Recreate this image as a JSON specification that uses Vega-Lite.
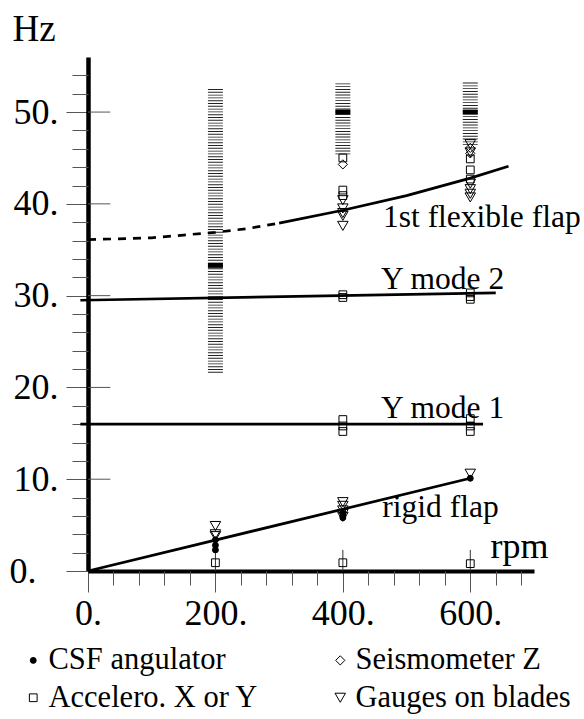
{
  "$schema": "https://vega.github.io/schema/vega-lite/v6.json",
  "width": 446,
  "height": 514,
  "autosize": {"type": "none"},
  "padding": {"left": 88, "top": 57, "right": 50, "bottom": 148},
  "config": {"view": {"stroke": null}, "font": "Liberation Serif"},
  "resolve": {"axis": {"x": "independent", "y": "independent"}},
  "datasets": {
    "bands": [
      {"rpm": 200, "hz": 21.6, "hi": 52.7},
      {"rpm": 400, "hz": 45.4, "hi": 53.3},
      {"rpm": 600, "hz": 46.4, "hi": 53.3}
    ],
    "peaks": [
      {"rpm": 200, "hz": 33.3},
      {"rpm": 400, "hz": 50.0},
      {"rpm": 600, "hz": 50.0}
    ],
    "majorX": [{"rpm": 200}, {"rpm": 400}, {"rpm": 600}],
    "majorY": [{"hz": 10}, {"hz": 20}, {"hz": 30}, {"hz": 40}, {"hz": 50}],
    "curves": [
      {"curve": "rigid flap", "style": "solid", "rpm": 0, "hz": 0},
      {"curve": "rigid flap", "style": "solid", "rpm": 600, "hz": 10.1},
      {"curve": "Y mode 1", "style": "solid", "rpm": -12, "hz": 16.0},
      {"curve": "Y mode 1", "style": "solid", "rpm": 620, "hz": 16.0},
      {"curve": "Y mode 2", "style": "solid", "rpm": -12, "hz": 29.5},
      {"curve": "Y mode 2", "style": "solid", "rpm": 640, "hz": 30.3},
      {"curve": "flex", "style": "solid", "rpm": 300, "hz": 37.9},
      {"curve": "flex", "style": "solid", "rpm": 400, "hz": 39.3},
      {"curve": "flex", "style": "solid", "rpm": 500, "hz": 40.9},
      {"curve": "flex", "style": "solid", "rpm": 600, "hz": 42.8},
      {"curve": "flex", "style": "solid", "rpm": 660, "hz": 44.1},
      {"curve": "flexd", "style": "dashed", "rpm": 0, "hz": 36.1},
      {"curve": "flexd", "style": "dashed", "rpm": 100, "hz": 36.3},
      {"curve": "flexd", "style": "dashed", "rpm": 150, "hz": 36.6},
      {"curve": "flexd", "style": "dashed", "rpm": 200, "hz": 36.9},
      {"curve": "flexd", "style": "dashed", "rpm": 250, "hz": 37.3},
      {"curve": "flexd", "style": "dashed", "rpm": 300, "hz": 37.9}
    ],
    "points": [
      {"rpm": 200, "hz": 4.9, "sensor": "Gauges on blades"},
      {"rpm": 200, "hz": 4.0, "sensor": "Gauges on blades"},
      {"rpm": 200, "hz": 3.8, "sensor": "Gauges on blades"},
      {"rpm": 200, "hz": 3.4, "sensor": "CSF angulator"},
      {"rpm": 200, "hz": 2.8, "sensor": "CSF angulator"},
      {"rpm": 200, "hz": 2.3, "sensor": "CSF angulator"},
      {"rpm": 200, "hz": 0.9, "sensor": "Accelero. X or Y"},
      {"rpm": 400, "hz": 45.0, "sensor": "Accelero. X or Y"},
      {"rpm": 400, "hz": 44.3, "sensor": "Seismometer Z"},
      {"rpm": 400, "hz": 41.5, "sensor": "Accelero. X or Y"},
      {"rpm": 400, "hz": 40.9, "sensor": "Accelero. X or Y"},
      {"rpm": 400, "hz": 40.4, "sensor": "Gauges on blades"},
      {"rpm": 400, "hz": 39.5, "sensor": "Gauges on blades"},
      {"rpm": 400, "hz": 39.0, "sensor": "Gauges on blades"},
      {"rpm": 400, "hz": 38.7, "sensor": "Gauges on blades"},
      {"rpm": 400, "hz": 37.6, "sensor": "Gauges on blades"},
      {"rpm": 400, "hz": 30.1, "sensor": "Accelero. X or Y"},
      {"rpm": 400, "hz": 29.8, "sensor": "Accelero. X or Y"},
      {"rpm": 400, "hz": 16.5, "sensor": "Accelero. X or Y"},
      {"rpm": 400, "hz": 15.8, "sensor": "Accelero. X or Y"},
      {"rpm": 400, "hz": 15.2, "sensor": "Accelero. X or Y"},
      {"rpm": 400, "hz": 7.5, "sensor": "Gauges on blades"},
      {"rpm": 400, "hz": 7.1, "sensor": "Gauges on blades"},
      {"rpm": 400, "hz": 6.6, "sensor": "Gauges on blades"},
      {"rpm": 400, "hz": 6.2, "sensor": "Gauges on blades"},
      {"rpm": 400, "hz": 5.9, "sensor": "Gauges on blades"},
      {"rpm": 400, "hz": 6.3, "sensor": "CSF angulator"},
      {"rpm": 400, "hz": 6.0, "sensor": "CSF angulator"},
      {"rpm": 400, "hz": 5.8, "sensor": "CSF angulator"},
      {"rpm": 400, "hz": 0.9, "sensor": "Accelero. X or Y"},
      {"rpm": 600, "hz": 46.5, "sensor": "Gauges on blades"},
      {"rpm": 600, "hz": 46.1, "sensor": "Seismometer Z"},
      {"rpm": 600, "hz": 45.5, "sensor": "Seismometer Z"},
      {"rpm": 600, "hz": 45.6, "sensor": "Gauges on blades"},
      {"rpm": 600, "hz": 44.9, "sensor": "Accelero. X or Y"},
      {"rpm": 600, "hz": 43.7, "sensor": "Accelero. X or Y"},
      {"rpm": 600, "hz": 42.7, "sensor": "Accelero. X or Y"},
      {"rpm": 600, "hz": 42.2, "sensor": "Gauges on blades"},
      {"rpm": 600, "hz": 41.6, "sensor": "Gauges on blades"},
      {"rpm": 600, "hz": 41.1, "sensor": "Gauges on blades"},
      {"rpm": 600, "hz": 40.7, "sensor": "Gauges on blades"},
      {"rpm": 600, "hz": 30.3, "sensor": "Accelero. X or Y"},
      {"rpm": 600, "hz": 29.9, "sensor": "Accelero. X or Y"},
      {"rpm": 600, "hz": 29.6, "sensor": "Accelero. X or Y"},
      {"rpm": 600, "hz": 16.6, "sensor": "Accelero. X or Y"},
      {"rpm": 600, "hz": 15.8, "sensor": "Accelero. X or Y"},
      {"rpm": 600, "hz": 15.2, "sensor": "Accelero. X or Y"},
      {"rpm": 600, "hz": 10.6, "sensor": "Gauges on blades"},
      {"rpm": 600, "hz": 10.1, "sensor": "CSF angulator"},
      {"rpm": 600, "hz": 0.8, "sensor": "Accelero. X or Y"}
    ],
    "labels": [
      {"rpm": 463, "hz": 37.5, "text": "1st flexible flap"},
      {"rpm": 460, "hz": 30.7, "text": "Y mode 2"},
      {"rpm": 460, "hz": 16.7, "text": "Y mode 1"},
      {"rpm": 462, "hz": 5.9, "text": "rigid flap"}
    ]
  },
  "layer": [
    {
      "data": {"name": "bands"},
      "mark": {"type": "rule", "strokeWidth": 15, "strokeDash": [0.9, 1.9], "color": "#222"},
      "encoding": {
        "x": {
          "field": "rpm", "type": "quantitative",
          "scale": {"domain": [0, 700], "nice": false, "zero": false},
          "axis": {
            "orient": "bottom",
            "title": "rpm", "titleX": 402, "titleY": -14, "titleAlign": "left", "titleBaseline": "alphabetic",
            "titleFont": "Liberation Serif", "titleFontSize": 36, "titleFontWeight": "normal", "titleColor": "black",
            "values": [0, 200, 400, 600],
            "labelExpr": "datum.value + '.'",
            "labelFont": "Liberation Serif", "labelFontSize": 36, "labelColor": "black", "labelPadding": 4,
            "labelFlush": false, "labelOverlap": false,
            "domainColor": "black", "domainWidth": 4,
            "tickColor": "#555", "tickWidth": 1, "tickSize": 21,
            "grid": false
          }
        },
        "y": {
          "field": "hz", "type": "quantitative",
          "scale": {"domain": [0, 56], "nice": false, "zero": false},
          "axis": {
            "orient": "left",
            "title": "Hz", "titleAngle": 0, "titleX": -76, "titleY": -17, "titleAlign": "left", "titleBaseline": "alphabetic",
            "titleFont": "Liberation Serif", "titleFontSize": 37, "titleFontWeight": "normal", "titleColor": "black",
            "values": [0, 10, 20, 30, 40, 50],
            "labelExpr": "datum.value === 0 ? '' : datum.value + '.'",
            "labelFont": "Liberation Serif", "labelFontSize": 36, "labelColor": "black", "labelPadding": 8,
            "labelOverlap": false, "labelFlush": false,
            "domainColor": "black", "domainWidth": 4.5,
            "tickColor": "#555", "tickWidth": 1, "tickSize": 22,
            "grid": false
          }
        },
        "y2": {"field": "hi"}
      }
    },
    {
      "data": {"name": "peaks"},
      "mark": {"type": "tick", "orient": "horizontal", "size": 15, "thickness": 5, "color": "black", "opacity": 1},
      "encoding": {
        "x": {
          "field": "rpm", "type": "quantitative",
          "axis": {
            "orient": "bottom", "title": null, "labels": false, "domain": false, "grid": false,
            "values": [40, 80, 120, 160, 240, 280, 320, 360, 440, 480, 520, 560, 640, 680],
            "tickColor": "#555", "tickWidth": 1, "tickSize": 14
          }
        },
        "y": {
          "field": "hz", "type": "quantitative",
          "axis": {
            "orient": "left", "title": null, "domain": false, "grid": false,
            "values": [0, 2, 4, 6, 8, 12, 14, 16, 18, 22, 24, 26, 28, 32, 34, 36, 38, 42, 44, 46, 48, 52, 54],
            "labelExpr": "datum.value === 0 ? '0.' : ''",
            "labelFont": "Liberation Serif", "labelFontSize": 36, "labelColor": "black", "labelPadding": 36,
            "labelOverlap": false, "labelFlush": false,
            "tickColor": "#555", "tickWidth": 1, "tickSize": 16
          }
        }
      }
    },
    {
      "data": {"name": "majorX"},
      "mark": {"type": "rule", "color": "#333", "strokeWidth": 1},
      "encoding": {
        "x": {"field": "rpm", "type": "quantitative", "axis": null},
        "y": {"datum": 0, "type": "quantitative", "axis": null},
        "y2": {"datum": 2.3}
      }
    },
    {
      "data": {"name": "majorY"},
      "mark": {"type": "rule", "color": "#555", "strokeWidth": 1},
      "encoding": {
        "y": {"field": "hz", "type": "quantitative", "axis": null},
        "x": {"datum": 0, "type": "quantitative", "axis": null},
        "x2": {"datum": 35}
      }
    },
    {
      "data": {"name": "curves"},
      "transform": [{"filter": "datum.style === 'solid'"}],
      "mark": {"type": "line", "color": "black", "strokeWidth": 2.7},
      "encoding": {
        "x": {"field": "rpm", "type": "quantitative", "axis": null},
        "y": {"field": "hz", "type": "quantitative", "axis": null},
        "detail": {"field": "curve"}
      }
    },
    {
      "data": {"name": "curves"},
      "transform": [{"filter": "datum.style === 'dashed'"}],
      "mark": {"type": "line", "color": "black", "strokeWidth": 2.7, "strokeDash": [8, 7]},
      "encoding": {
        "x": {"field": "rpm", "type": "quantitative", "axis": null},
        "y": {"field": "hz", "type": "quantitative", "axis": null},
        "detail": {"field": "curve"}
      }
    },
    {
      "data": {"name": "points"},
      "mark": {"type": "point", "filled": true, "stroke": "black", "strokeWidth": 1, "opacity": 1},
      "encoding": {
        "x": {"field": "rpm", "type": "quantitative", "axis": null},
        "y": {"field": "hz", "type": "quantitative", "axis": null},
        "shape": {
          "field": "sensor", "type": "nominal",
          "scale": {"domain": ["CSF angulator", "Accelero. X or Y", "Seismometer Z", "Gauges on blades"], "range": ["circle", "square", "diamond", "triangle-down"]},
          "legend": {
            "orient": "none", "legendX": -70, "legendY": 588, "columns": 2, "columnPadding": 66, "rowPadding": 6.5,
            "title": null, "labelFont": "Liberation Serif", "labelFontSize": 30.5, "labelColor": "black", "labelLimit": 0,
            "labelOffset": 0, "symbolStrokeColor": "black", "symbolStrokeWidth": 1
          }
        },
        "fill": {
          "field": "sensor", "type": "nominal",
          "scale": {"domain": ["CSF angulator", "Accelero. X or Y", "Seismometer Z", "Gauges on blades"], "range": ["black", "transparent", "transparent", "transparent"]}
        },
        "size": {
          "field": "sensor", "type": "nominal",
          "scale": {"domain": ["CSF angulator", "Accelero. X or Y", "Seismometer Z", "Gauges on blades"], "range": [35, 110, 120, 110]}
        }
      }
    },
    {
      "data": {"name": "labels"},
      "mark": {"type": "text", "align": "left", "baseline": "alphabetic", "font": "Liberation Serif", "fontSize": 31.5, "color": "black"},
      "encoding": {
        "x": {"field": "rpm", "type": "quantitative", "axis": null},
        "y": {"field": "hz", "type": "quantitative", "axis": null},
        "text": {"field": "text"}
      }
    }
  ]
}
